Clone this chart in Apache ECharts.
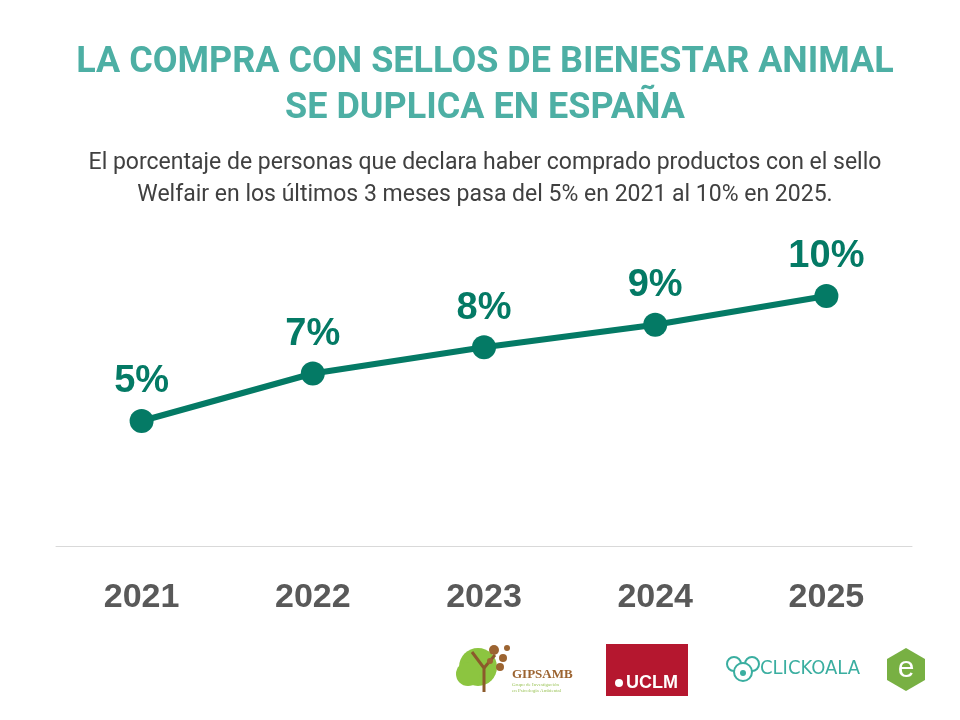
<!DOCTYPE html>
<html>
<head>
<meta charset="utf-8">
<style>html,body{margin:0;padding:0;background:#fff;}#c{width:960px;height:720px;}</style>
<script src="https://cdn.jsdelivr.net/npm/echarts@6/dist/echarts.min.js"></script>
</head>
<body>
<div id="c"></div>
<script>
var years = ['2021', '2022', '2023', '2024', '2025'];
var values = [5.0, 6.9, 7.95, 8.85, 10.0];
var valueLabels = ['5%', '7%', '8%', '9%', '10%'];
var titleText = 'LA COMPRA CON SELLOS DE BIENESTAR ANIMAL\nSE DUPLICA EN ESPAÑA';
var subtitleText = 'El porcentaje de personas que declara haber comprado productos con el sello\nWelfair en los últimos 3 meses pasa del 5% en 2021 al 10% en 2025.';

var chart = echarts.init(document.getElementById('c'), null, {renderer: 'canvas'});
var option = {
  backgroundColor: '#ffffff',
  animation: false,
  title: [{
    text: titleText,
    left: 480,
    top: 35,
    textAlign: 'center',
    textStyle: {
      fontFamily: 'Roboto', fontWeight: 'bold', fontSize: 36,
      color: '#4dafa4', lineHeight: 46
    }
  }, {
    text: subtitleText,
    left: 480,
    top: 142,
    textAlign: 'center',
    textStyle: {
      fontFamily: 'Roboto', fontWeight: 'normal', fontSize: 23,
      color: '#404040', lineHeight: 32
    }
  }],
  grid: {left: 56, right: 48, top: 246, bottom: 174},
  xAxis: {
    type: 'category',
    data: years,
    boundaryGap: true,
    axisLine: {lineStyle: {color: '#d9d9d9', width: 1}},
    axisTick: {show: false},
    axisLabel: {
      margin: 35, fontFamily: 'Liberation Sans', fontWeight: 'bold',
      fontSize: 34, color: '#595959'
    }
  },
  yAxis: {
    type: 'value', min: 0, max: 12, show: false,
    splitLine: {show: false}
  },
  series: [{
    type: 'line',
    data: values,
    symbol: 'circle',
    symbolSize: 24,
    lineStyle: {color: '#047a65', width: 6},
    itemStyle: {color: '#047a65'},
    label: {
      show: true, position: 'top', distance: 8,
      fontFamily: 'Liberation Sans', fontWeight: 'bold', fontSize: 38,
      color: '#047a65',
      formatter: function (p) { return valueLabels[p.dataIndex]; }
    }
  }],
  graphic: [
    // GIPSAMB logo
    {type: 'circle', shape: {cx: 478, cy: 667, r: 19}, style: {fill: '#8cc540'}},
    {type: 'circle', shape: {cx: 468, cy: 674, r: 12}, style: {fill: '#8cc540'}},
    {type: 'polyline', shape: {points: [[484, 692], [484, 668], [472, 652]]}, style: {stroke: '#8b5a2b', lineWidth: 3, fill: null}},
    {type: 'polyline', shape: {points: [[484, 668], [495, 655]]}, style: {stroke: '#8b5a2b', lineWidth: 3, fill: null}},
    {type: 'circle', shape: {cx: 494, cy: 650, r: 5}, style: {fill: '#9c6431'}},
    {type: 'circle', shape: {cx: 503, cy: 658, r: 4}, style: {fill: '#9c6431'}},
    {type: 'circle', shape: {cx: 500, cy: 667, r: 4}, style: {fill: '#9c6431'}},
    {type: 'circle', shape: {cx: 490, cy: 661, r: 3}, style: {fill: '#9c6431'}},
    {type: 'circle', shape: {cx: 507, cy: 648, r: 3}, style: {fill: '#9c6431'}},
    {type: 'text', left: 512, top: 668, style: {text: 'GIPSAMB', fill: '#9c6431', font: 'bold 13px "Liberation Serif"'}},
    {type: 'text', left: 512, top: 682, style: {text: 'Grupo de Investigación\nen Psicología Ambiental', fill: '#9cc45a', font: '5px "Liberation Serif"', lineHeight: 6}},
    // UCLM logo
    {type: 'rect', shape: {x: 606, y: 644, width: 82, height: 52}, style: {fill: '#b5172f'}},
    {type: 'circle', shape: {cx: 619, cy: 683, r: 4}, style: {fill: '#ffffff'}},
    {type: 'text', left: 626, top: 674, style: {text: 'UCLM', fill: '#ffffff', font: 'bold 18px "Liberation Sans"'}},
    // CLICKOALA logo
    {type: 'circle', shape: {cx: 734, cy: 664, r: 7}, style: {fill: null, stroke: '#3aaea0', lineWidth: 2}},
    {type: 'circle', shape: {cx: 752, cy: 664, r: 7}, style: {fill: null, stroke: '#3aaea0', lineWidth: 2}},
    {type: 'circle', shape: {cx: 743, cy: 672, r: 9}, style: {fill: '#ffffff', stroke: '#3aaea0', lineWidth: 2}},
    {type: 'circle', shape: {cx: 743, cy: 673, r: 3}, style: {fill: '#3aaea0'}},
    {type: 'text', left: 760, top: 659, style: {text: 'CLICKOALA', fill: '#3aaea0', font: '20px "DejaVu Sans Condensed"'}},
    // e logo
    {type: 'polygon', shape: {points: [[906, 648], [925, 659], [925, 680], [906, 691], [887, 680], [887, 659]]}, style: {fill: '#78b043'}},
    {type: 'text', x: 906, y: 669, style: {text: 'e', fill: '#ffffff', font: '30px "Liberation Sans"', textAlign: 'center', textVerticalAlign: 'middle'}}
  ]
};
chart.setOption(option);
</script>
</body>
</html>
